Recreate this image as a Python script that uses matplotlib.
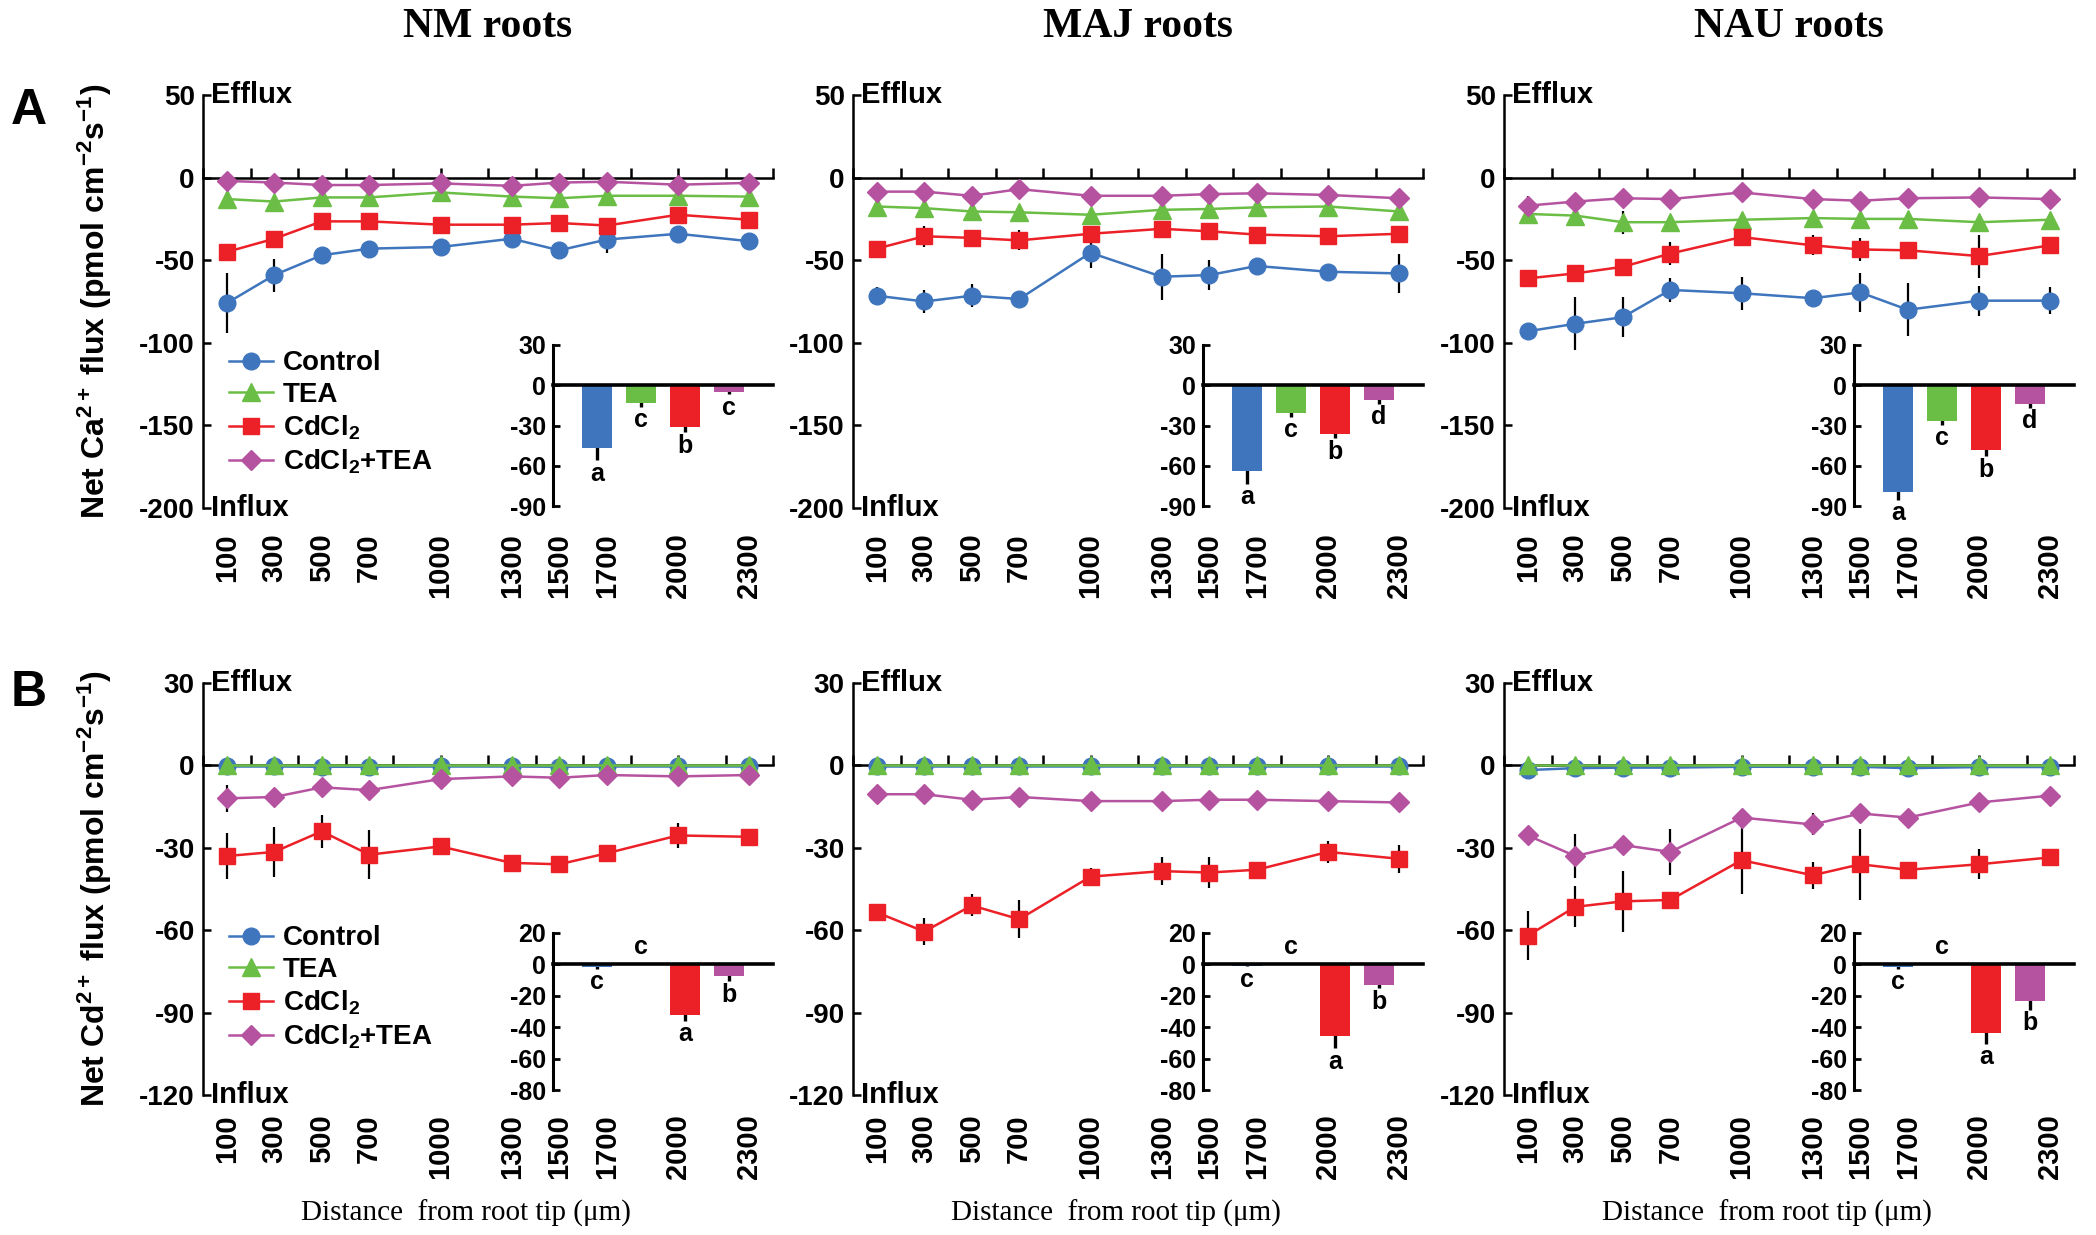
import numpy as np
import matplotlib.pyplot as plt
import matplotlib.transforms as mtrans

plt.rcParams['font.family'] = ['Liberation Sans', 'DejaVu Sans']
plt.rcParams['font.weight'] = 'bold'
plt.rcParams['mathtext.fontset'] = 'custom'
plt.rcParams['mathtext.rm'] = 'Liberation Sans:bold'
plt.rcParams['mathtext.it'] = 'Liberation Sans:bold'
plt.rcParams['mathtext.bf'] = 'Liberation Sans:bold'
plt.rcParams['axes.unicode_minus'] = False

# distances from root tip (um)
dist = [100, 300, 500, 700, 1000, 1300, 1500, 1700, 2000, 2300]
treat = ['Control', 'TEA', 'CdCl$_2$', 'CdCl$_2$+TEA']
roots = ['NM roots', 'MAJ roots', 'NAU roots']

# --- A: net Ca2+ flux, rows = Control, TEA, CdCl2, CdCl2+TEA
ca_nm = [[-76, -59, -47, -43, -42, -37, -44, -37.5, -34, -38.5],
         [-13, -14.5, -12, -12, -9, -11.5, -12.5, -11, -11, -11.5],
         [-45, -37, -26.5, -26.5, -28.5, -28.5, -27.5, -29, -22.5, -25.5],
         [-2, -3, -4.5, -4.5, -3.5, -5, -3, -2.5, -4.3, -3.2]]
ca_nm_err = [[18, 10, 3, 4, 5, 4, 3, 8, 3, 3],
             [4, 2, 2, 3, 2, 2, 2, 2, 2, 2],
             [2, 3, 2, 2, 2, 4, 2, 4, 2, 2],
             [1, 1, 1, 1, 1, 1, 1, 1, 1, 1]]

ca_maj = [[-71.5, -75, -71.5, -73.5, -45.5, -60, -59, -53.5, -57, -58],
          [-17.5, -18.5, -20.5, -21, -22.5, -19.5, -19, -18, -17.5, -20.5],
          [-43, -35.5, -36.5, -38, -34, -31, -32.5, -34.5, -35.5, -34],
          [-8.5, -8.5, -11, -7, -11, -11, -10, -9.5, -10.5, -12.5]]
ca_maj_err = [[5, 7, 7, 2, 9, 14, 9, 2, 2, 12],
              [2, 2, 2, 4, 4, 2, 2, 2, 2, 3],
              [2, 6.5, 2, 6, 2, 2, 2, 2, 5, 3],
              [1, 1, 1, 1, 1, 1, 1, 1, 1, 1]]

ca_nau = [[-93, -88.5, -84.5, -68, -70, -73, -69.5, -80, -74.5, -74.5],
          [-22, -23, -27, -27, -25.5, -24.5, -25, -25, -27, -25.5],
          [-61, -58, -54, -46, -36, -41, -43.5, -44, -47.5, -41],
          [-17, -14.5, -12.5, -13, -9, -13, -14, -12.5, -12, -13]]
ca_nau_err = [[2, 16, 12, 7.5, 10, 2, 12, 16, 9, 8],
              [3, 5, 7, 2, 2, 2, 2, 2, 2, 2],
              [5, 5, 5, 7, 2, 6, 7, 2, 13, 5],
              [6, 2, 2, 2, 2, 2, 2, 2, 2, 2]]

# --- B: net Cd2+ flux
cd_nm = [[-0.4, -0.4, -0.5, -0.5, -0.4, -0.4, -0.5, -0.4, -0.4, -0.4],
         [0.3, 0.3, 0.3, 0.3, 0.3, 0.3, 0.3, 0.3, 0.3, 0.3],
         [-33, -31.5, -24, -32.5, -29.5, -35.5, -36, -32, -25.5, -26],
         [-12, -11.5, -8, -9, -5, -4, -4.5, -3.5, -4, -3.5]]
cd_nm_err = [[0.3, 0.3, 0.3, 0.3, 0.3, 0.3, 0.3, 0.3, 0.3, 0.3],
             [0.3, 0.3, 0.3, 0.3, 0.3, 0.3, 0.3, 0.3, 0.3, 0.3],
             [8.5, 9, 6, 9, 2, 3, 3, 2, 4.5, 3],
             [5, 2, 2, 2, 2, 2, 2, 2, 2, 2]]

cd_maj = [[-0.4, -0.4, -0.4, -0.4, -0.4, -0.4, -0.4, -0.4, -0.4, -0.4],
          [0.3, 0.3, 0.3, 0.3, 0.3, 0.3, 0.3, 0.3, 0.3, 0.3],
          [-53.5, -60.5, -51, -56, -40.5, -38.5, -39, -38, -31.5, -34],
          [-10.5, -10.5, -12.5, -11.5, -13, -13, -12.5, -12.5, -13, -13.5]]
cd_maj_err = [[0.3, 0.3, 0.3, 0.3, 0.3, 0.3, 0.3, 0.3, 0.3, 0.3],
              [0.3, 0.3, 0.3, 0.3, 0.3, 0.3, 0.3, 0.3, 0.3, 0.3],
              [2, 5, 4, 7, 3, 5, 5.5, 2, 4, 5],
              [1, 1, 1, 3, 3, 1, 1, 1, 1, 1]]

cd_nau = [[-1.7, -1, -0.8, -0.8, -0.5, -0.5, -0.5, -1, -0.6, -0.6],
          [0.3, 0.3, 0.3, 0.3, 0.3, 0.3, 0.3, 0.3, 0.3, 0.3],
          [-62, -51.5, -49.5, -49, -34.5, -40, -36, -38, -36, -33.5],
          [-25.5, -33, -29, -31.5, -19, -21.5, -17.5, -19, -13.5, -11]]
cd_nau_err = [[0.5, 0.5, 0.5, 0.5, 0.5, 0.5, 0.5, 0.5, 0.5, 0.5],
              [0.3, 0.3, 0.3, 0.3, 0.3, 0.3, 0.3, 0.3, 0.3, 0.3],
              [9, 7.5, 11, 2, 12.5, 5, 13, 3, 5.5, 2],
              [2, 8, 2, 8.5, 3, 4, 2, 2, 2, 2]]

# --- inset bars (mean flux over all positions)
ca_bar_nm = [-47, -13, -31, -4.8]
ca_bar_nm_err = [9, 3, 4, 2]
ca_bar_nm_let = ['a', 'c', 'b', 'c']
ca_bar_maj = [-64, -20.5, -36.5, -11]
ca_bar_maj_err = [9.5, 3, 3, 3]
ca_bar_maj_let = ['a', 'c', 'b', 'd']
ca_bar_nau = [-79.5, -26.5, -48, -14]
ca_bar_nau_err = [6, 3, 5, 3]
ca_bar_nau_let = ['a', 'c', 'b', 'd']
cd_bar_nm = [-1.7, 0.3, -32, -7.7]
cd_bar_nm_err = [1, 0.3, 4, 3]
cd_bar_nm_let = ['c', 'c', 'a', 'b']
cd_bar_maj = [-0.8, 0.3, -45.5, -13.3]
cd_bar_maj_err = [0.5, 0.3, 8, 2]
cd_bar_maj_let = ['c', 'c', 'a', 'b']
cd_bar_nau = [-1.7, 0.3, -43.5, -23]
cd_bar_nau_err = [1, 0.3, 7, 6]
cd_bar_nau_let = ['c', 'c', 'a', 'b']

colors = ['#3E75BD', '#6BBE45', '#EC2027', '#B653A1']
markers = ['o', '^', 's', 'D']
msizes = [12, 13, 11, 10.5]

W, H = 2096, 1235
fig = plt.figure(figsize=(W / 100, H / 100), dpi=100)


def rect(l, t, r, b):
    return [l / W, 1 - b / H, (r - l) / W, (b - t) / H]


main_left = [203, 853, 1504]
main_w = 570
rows = [
    dict(top=95, bot=508, ylim=(-200, 50), yt=[50, 0, -50, -100, -150, -200],
         itop=345, ibot=506, iylim=(-90, 30), iyt=[30, 0, -30, -60, -90],
         data=[(ca_nm, ca_nm_err), (ca_maj, ca_maj_err), (ca_nau, ca_nau_err)],
         bars=[(ca_bar_nm, ca_bar_nm_err, ca_bar_nm_let),
               (ca_bar_maj, ca_bar_maj_err, ca_bar_maj_let),
               (ca_bar_nau, ca_bar_nau_err, ca_bar_nau_let)],
         ylabel='Net Ca$^{2+}$ flux (pmol cm$^{-2}$s$^{-1}$)', letter='A',
         legtop=0.382, xpad=18),
    dict(top=683, bot=1095, ylim=(-120, 30), yt=[30, 0, -30, -60, -90, -120],
         itop=933, ibot=1090, iylim=(-80, 20), iyt=[20, 0, -20, -40, -60, -80],
         data=[(cd_nm, cd_nm_err), (cd_maj, cd_maj_err), (cd_nau, cd_nau_err)],
         bars=[(cd_bar_nm, cd_bar_nm_err, cd_bar_nm_let),
               (cd_bar_maj, cd_bar_maj_err, cd_bar_maj_let),
               (cd_bar_nau, cd_bar_nau_err, cd_bar_nau_let)],
         ylabel='Net Cd$^{2+}$ flux (pmol cm$^{-2}$s$^{-1}$)', letter='B',
         legtop=0.412, xpad=14),
]

for r, row in enumerate(rows):
    for j in range(3):
        left = main_left[j]
        ax = fig.add_axes(rect(left, row['top'], left + main_w, row['bot']))
        means, errs = row['data'][j]
        for k in range(4):
            ax.errorbar(dist, means[k], yerr=errs[k], fmt='none', ecolor='black',
                        elinewidth=1.6, capsize=0, zorder=2)
            ax.plot(dist, means[k], color=colors[k], marker=markers[k], ms=msizes[k],
                    lw=1.8, zorder=3, label=treat[k])
        ax.set_xlim(0, 2400)
        ax.set_ylim(*row['ylim'])
        ax.set_yticks(row['yt'])
        for s in ['top', 'right']:
            ax.spines[s].set_visible(False)
        ax.spines['bottom'].set_position(('data', 0))
        ax.spines['bottom'].set_linewidth(1.8)
        ax.spines['left'].set_linewidth(1.8)
        ax.set_xticks(np.arange(0, 2401, 200))
        ax.tick_params(axis='x', direction='in', length=7, width=1.8, labelbottom=False)
        ax.tick_params(axis='y', direction='in', length=6, width=1.8, labelsize=20, pad=6)
        sec = ax.secondary_xaxis(0)
        sec.set_xticks(dist)
        sec.set_xticklabels([str(d) for d in dist], rotation=90, fontsize=21,
                            fontweight='bold')
        sec.tick_params(length=0, pad=row['xpad'])
        sec.spines['bottom'].set_visible(False)

        tr = mtrans.blended_transform_factory(ax.transAxes, ax.transData)
        ax.text(0.014, row['ylim'][1], 'Efflux', transform=tr, ha='left', va='center',
                fontsize=21)
        ax.text(0.014, row['ylim'][0], 'Influx', transform=tr, ha='left', va='center',
                fontsize=21)

        if j == 0:
            ax.legend(loc='upper left', bbox_to_anchor=(0.045, row['legtop']),
                      frameon=False, fontsize=20, handlelength=1.6, handletextpad=0.35,
                      labelspacing=0.2, borderpad=0, borderaxespad=0)

        # inset bar chart
        ia = fig.add_axes(rect(left + 350, row['itop'], left + main_w, row['ibot']))
        ia.patch.set_alpha(0)
        vals, verr, lets = row['bars'][j]
        xs = [1, 2, 3, 4]
        ia.errorbar(xs, vals, yerr=verr, fmt='none', ecolor='black', elinewidth=2.4,
                    capsize=0, zorder=2)
        ia.bar(xs, vals, width=0.68, color=colors, zorder=3)
        for x, v, e, t in zip(xs, vals, verr, lets):
            if v >= 0:
                ia.annotate(t, (x, v + e), xytext=(0, 3), textcoords='offset points',
                            ha='center', va='bottom', fontsize=18)
            else:
                ia.annotate(t, (x, v - e), xytext=(0, -1), textcoords='offset points',
                            ha='center', va='top', fontsize=18)
        ia.set_xlim(0, 5)
        ia.set_ylim(*row['iylim'])
        ia.set_yticks(row['iyt'])
        for s in ['top', 'right']:
            ia.spines[s].set_visible(False)
        ia.spines['bottom'].set_position(('data', 0))
        ia.spines['bottom'].set_linewidth(2.6)
        ia.spines['bottom'].set_zorder(4)
        ia.spines['left'].set_linewidth(2.2)
        ia.set_xticks([])
        ia.tick_params(axis='y', direction='in', length=5, width=2, labelsize=18, pad=5)

        if r == 1:
            fig.text((left + main_w / 2 - 22) / W, 1 - 1213 / H,
                     'Distance  from root tip (\u03bcm)', family='Liberation Serif',
                     weight='normal', fontsize=21, ha='center', va='center')
        if r == 0:
            fig.text((left + main_w / 2) / W, 1 - 27 / H, roots[j],
                     family='Liberation Serif', weight='bold', fontsize=30,
                     ha='center', va='center')

    fig.text(95 / W, 1 - (row['top'] + row['bot']) / 2 / H, row['ylabel'], rotation=90,
             ha='center', va='center', fontsize=23)
    fig.text(29 / W, 1 - (111 if r == 0 else 693) / H, row['letter'], fontsize=36,
             ha='center', va='center')

fig.savefig('out.png', dpi=100)
